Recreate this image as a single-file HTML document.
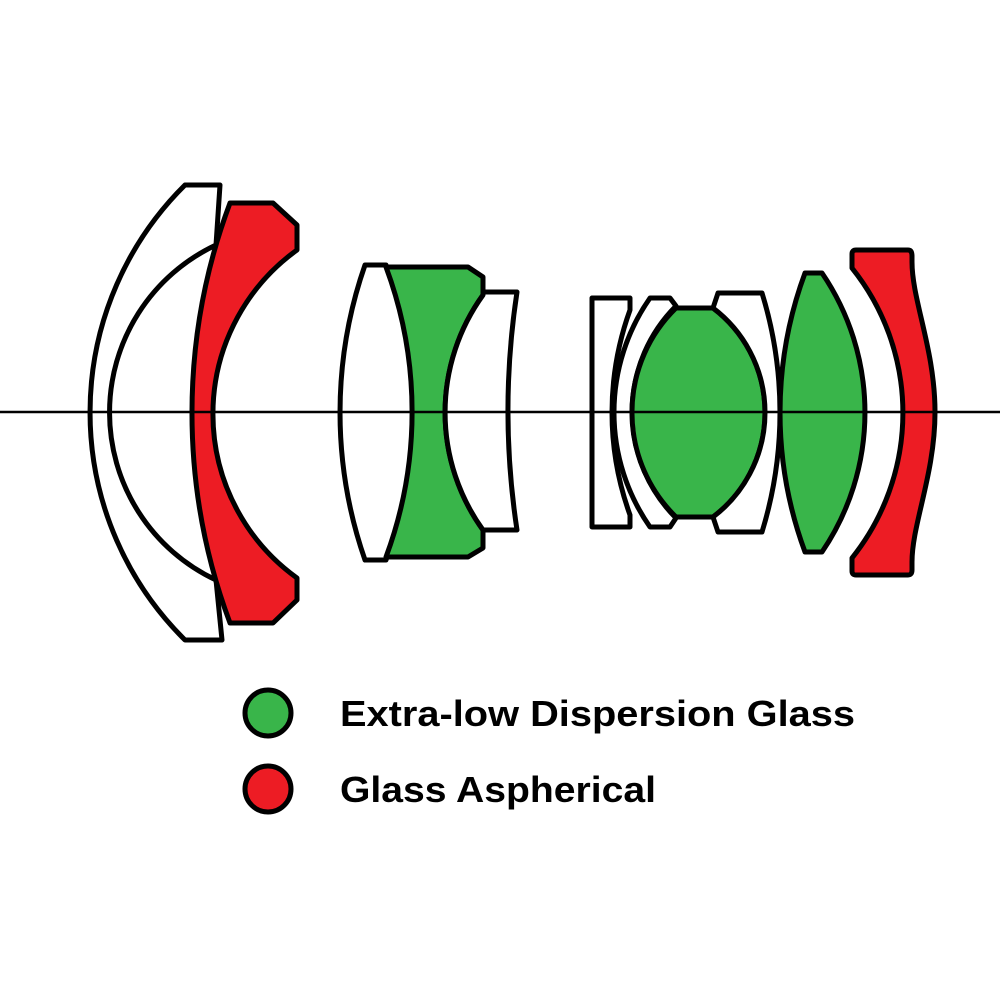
<!DOCTYPE html>
<html><head><meta charset="utf-8"><style>html,body{margin:0;padding:0;background:#fff}svg{display:block}</style></head>
<body>
<svg width="1000" height="1000" viewBox="0 0 1000 1000" xmlns="http://www.w3.org/2000/svg">
<rect width="1000" height="1000" fill="#fff"/>
<g stroke="#000" stroke-width="5" stroke-linejoin="round">
<!-- lens 1 white meniscus -->
<path fill="#fff" d="M185,185 L220,185 L216,245 A185,185 0 0 0 216,580 L222,640 L185,640 A320,320 0 0 1 185,185 Z"/>
<!-- lens 2 red -->
<path fill="#ed1c24" d="M230,203 L273,203 L297,225 L297,250 A202,202 0 0 0 297,578 L297,600 L273,623 L230,623 A599,599 0 0 1 230,203 Z"/>
<!-- lens 3 white biconvex -->
<path fill="#fff" d="M365,265 L386,265 A416,416 0 0 1 386,560 L365,560 A448,448 0 0 1 365,265 Z"/>
<!-- lens 4 green -->
<path fill="#39b54a" d="M386,267 L468,267 L483,277 L483,295 A201,201 0 0 0 483,530 L483,548 L468,557 L386,557 A416,416 0 0 0 386,267 Z"/>
<!-- lens 5 white -->
<path fill="#fff" d="M483,292 L517,292 A791,791 0 0 0 517,530 L483,530 A201,201 0 0 1 483,295 Z"/>
<!-- right group -->
<path fill="#fff" d="M592,298 L630,298 L630,310 A301,301 0 0 0 630,515 L630,527 L592,527 Z"/>
<path fill="#fff" d="M650,298 L670,298 L676,306 A150,150 0 0 0 676,518 L670,527 L650,527 A200,200 0 0 1 650,298 Z"/>
<path fill="#39b54a" d="M676,308 L713,308 A131,131 0 0 1 713,517 L676,517 A146,146 0 0 1 676,308 Z"/>
<path fill="#fff" d="M713,308 L718,293 L762,293 A406,406 0 0 1 762,532 L718,532 L713,517 A131,131 0 0 0 713,308 Z"/>
<path fill="#39b54a" d="M805,273 L822,273 A248,248 0 0 1 822,552 L805,552 A402,402 0 0 1 805,273 Z"/>
<path fill="#ed1c24" d="M856,250 L908,250 Q912,250 912,256 L912,262 C912,300 935,350 935,412 C935,474 912,524 912,562 L912,570 Q912,575 908,575 L856,575 Q852,575 852,571 L852,558 A232,232 0 0 0 852,268 L852,254 Q852,250 856,250 Z"/>
</g>
<!-- optical axis -->
<g stroke="#000" stroke-width="2.5">
<line x1="0" y1="412" x2="1000" y2="412"/>
</g>
<!-- legend -->
<circle cx="268" cy="713" r="23" fill="#39b54a" stroke="#000" stroke-width="5"/>
<circle cx="268" cy="789" r="23" fill="#ed1c24" stroke="#000" stroke-width="5"/>
<g font-family="'Liberation Sans', sans-serif" font-weight="bold" font-size="36" fill="#000">
<text x="340" y="726" textLength="515" lengthAdjust="spacingAndGlyphs">Extra-low Dispersion Glass</text>
<text x="340" y="802" textLength="316" lengthAdjust="spacingAndGlyphs">Glass Aspherical</text>
</g>
</svg>
</body></html>
